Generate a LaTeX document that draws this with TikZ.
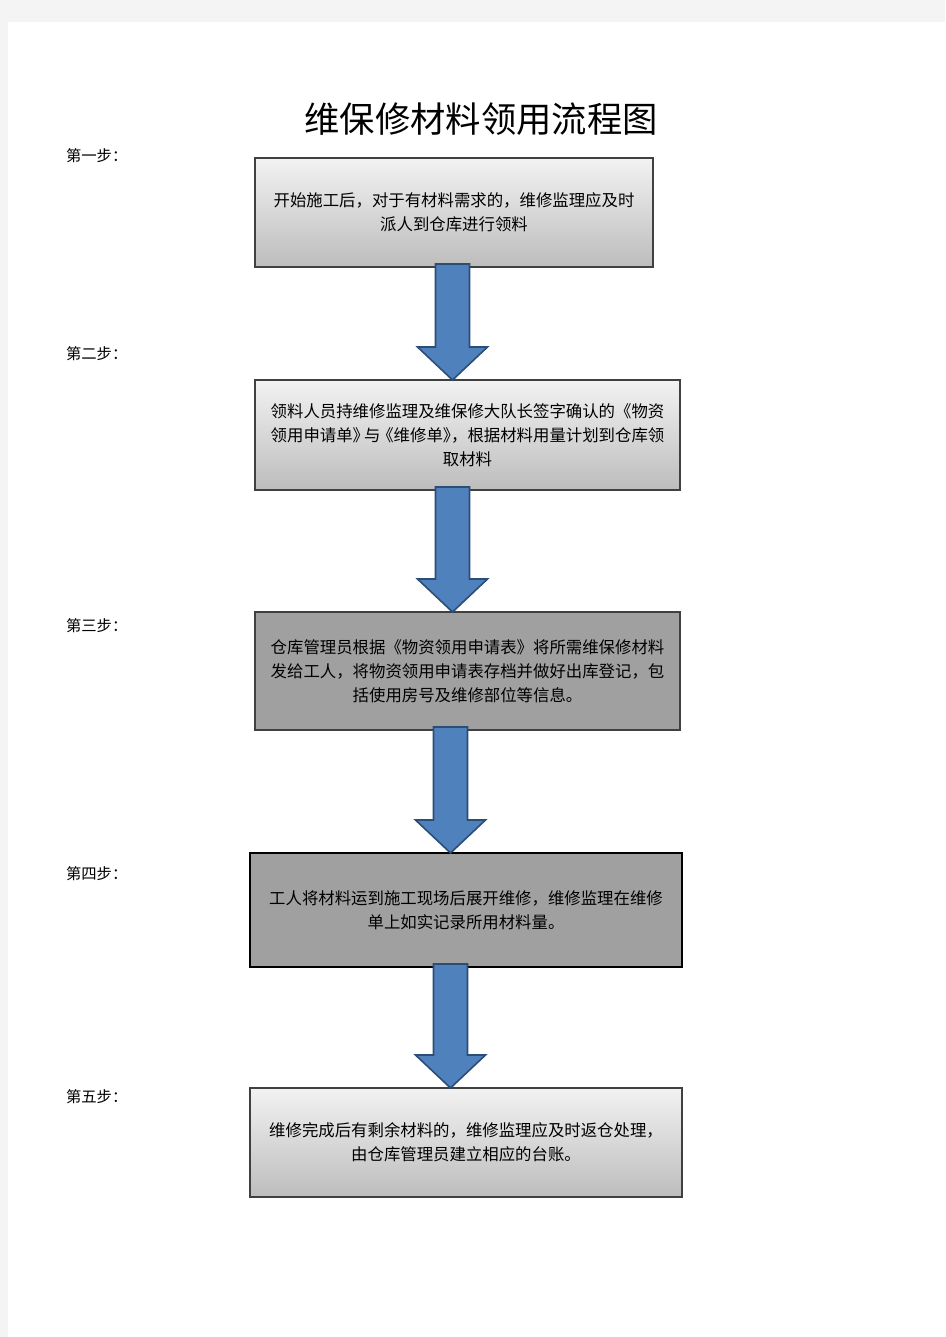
\documentclass[tikz,border=0pt]{standalone}
\usepackage{fontspec}
\setmainfont{Noto Sans CJK SC}
\usepackage{tikz}
\usetikzlibrary{arrows.meta, positioning, calc, shadows}
\definecolor{pagegray}{HTML}{F4F4F4}
\definecolor{arrowfill}{HTML}{4F81BD}
\definecolor{arrowline}{HTML}{2C4D75}
\definecolor{boxgray}{HTML}{A0A0A0}

\begin{document}
\begin{tikzpicture}[x=0.75pt, y=-0.75pt,
        every node/.style={outer sep=0pt, inner sep=0pt},
        box/.style={rectangle, draw=black!75, line width=0.9pt, align=center,
            font=\fontsize{12.3}{18}\selectfont,
            drop shadow={shadow xshift=1pt, shadow yshift=-1pt, opacity=0.25}},
        lightbox/.style={box, top color=black!5, bottom color=black!26},
        darkbox/.style={box, fill=boxgray},
        steplabel/.style={anchor=west, font=\fontsize{11.5}{13}\selectfont},
        blockarrow/.style={fill=arrowfill, draw=arrowline, line width=1.2pt, line join=miter}]

        % page
        \useasboundingbox (0,0) rectangle (945,1337);
        \fill[pagegray] (0,0) rectangle (945,1337);
        \fill[white] (8,22) rectangle (945,1337);

        \node (title) at (481,119) {\fontsize{26.5}{30}\selectfont 维保修材料领用流程图};

        % steps
        \node[lightbox, minimum width=298.5pt, minimum height=81.75pt] (1) at (454,212.5)
            {开始施工后，对于有材料需求的，维修监理应及时\\派人到仓库进行领料};
        \node[lightbox, minimum width=318.75pt, minimum height=82.5pt] (2) at (467.5,435)
            {领料人员持维修监理及维保修大队长签字确认的《物资\\领用申请单》\hspace{-0.3em}与\hspace{-0.2em}《维修单》\hspace{-0.5em}，根据材料用量计划到仓库领\\取材料};
        \node[darkbox, minimum width=318.75pt, minimum height=88.5pt] (3) at (467.5,671)
            {仓库管理员根据《物资领用申请表》将所需维保修材料\\发给工人，将物资领用申请表存档并做好出库登记，包\\括使用房号及维修部位等信息。};
        \node[darkbox, draw=black, line width=1.6pt, minimum width=324pt, minimum height=85.5pt] (4) at (466,910)
            {工人将材料运到施工现场后展开维修，维修监理在维修\\单上如实记录所用材料量。};
        \node[lightbox, minimum width=324pt, minimum height=81.75pt] (5) at (466,1142.5)
            {维修完成后有剩余材料的，维修监理应及时返仓处理，\\由仓库管理员建立相应的台账。};

        \node[steplabel] (l1) at (66,156) {第一步：};
        \node[steplabel] (l2) at (66,354) {第二步：};
        \node[steplabel] (l3) at (66,626) {第三步：};
        \node[steplabel] (l4) at (66,874) {第四步：};
        \node[steplabel] (l5) at (66,1097) {第五步：};

        % block arrows between the steps
        \foreach \a/\b/\x in {1/2/452.5, 2/3/452.5, 3/4/450.5, 4/5/450.5}{
            \coordinate (ax) at (\x,0);
            \draw[blockarrow] ($(ax |- \a.south)+(-17,-3)$) -- ($(ax |- \b.north)+(-17,-33)$)
                -- ($(ax |- \b.north)+(-35,-33)$) -- (ax |- \b.north)
                -- ($(ax |- \b.north)+(35,-33)$) -- ($(ax |- \b.north)+(17,-33)$)
                -- ($(ax |- \a.south)+(17,-3)$) -- cycle;
        }
\end{tikzpicture}
\end{document}
